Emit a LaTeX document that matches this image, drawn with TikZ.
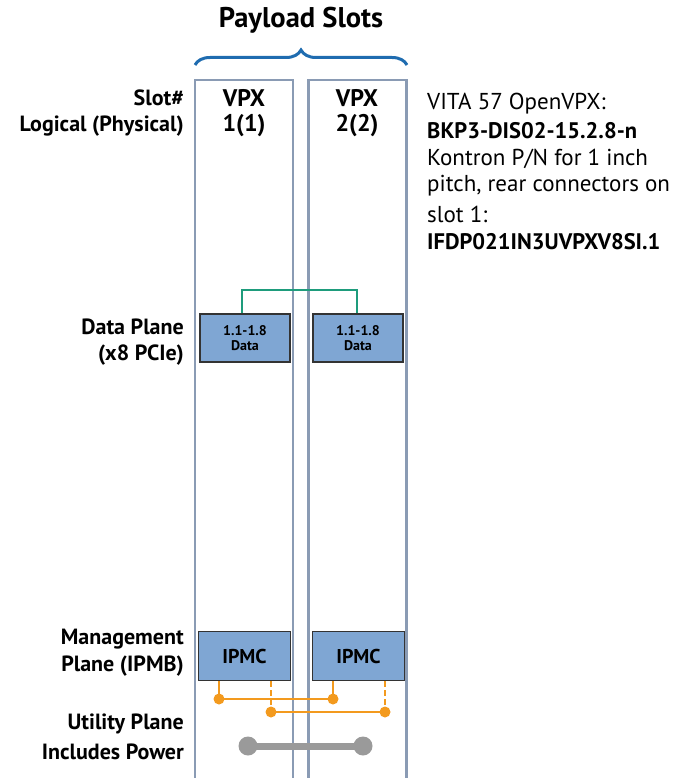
\documentclass[tikz,border=0pt]{standalone}
\usepackage{fontspec}
\setmainfont{PT Sans}
\usetikzlibrary{decorations.pathreplacing}
\definecolor{slotc}{HTML}{8A9BB4}
\definecolor{boxc}{HTML}{7FA6D3}
\definecolor{grn}{HTML}{1E9C7C}
\definecolor{orn}{HTML}{F39A1E}
\definecolor{gry}{HTML}{9A9A9A}
\definecolor{brc}{HTML}{1F6CB0}
\begin{document}
\begin{tikzpicture}[x=1pt,y=-1pt,
  slotbox/.style={draw=slotc,line width=2.4pt,minimum width=98pt,minimum height=700pt,inner sep=0pt},
  databox/.style={draw=black!80,fill=boxc,line width=1.4pt,minimum width=90pt,minimum height=48pt,inner sep=0pt,font=\bfseries\fontsize{14}{15}\selectfont,align=center},
  ipmcbox/.style={draw=black!80,fill=boxc,line width=1.4pt,minimum width=92pt,minimum height=49pt,inner sep=0pt,font=\bfseries\fontsize{20}{22}\selectfont},
  lbl/.style={anchor=east,font=\bfseries\fontsize{22}{24}\selectfont,inner sep=0pt},
  vpx/.style={font=\bfseries\fontsize{24}{26}\selectfont,inner sep=0pt},
  rt/.style={anchor=west,font=\fontsize{23}{24}\selectfont,inner sep=0pt},
  rtb/.style={anchor=west,font=\bfseries\fontsize{22.5}{24}\selectfont,inner sep=0pt},
  odot/.style={circle,fill=orn,inner sep=0pt,minimum size=11pt},
  gdot/.style={circle,fill=gry,inner sep=0pt,minimum size=19pt}]
\useasboundingbox (0,0) rectangle (673,778);
% slots
\node[slotbox] (s1) at (244,430) {};
\node[slotbox] (s2) at (357.5,430) {};
% brace and title
\coordinate (bl) at (195,65);
\coordinate (br) at (407,65);
\draw[brc,line width=3pt,decorate,decoration={brace,amplitude=15pt}] (bl) -- (br);
\node[font=\bfseries\fontsize{28.5}{30}\selectfont,inner sep=0pt] (title) at (301,20) {Payload Slots};
% VPX
\node[vpx] (v1a) at (244,98) {VPX};
\node[vpx] (v1b) at (244,126) {1(1)};
\node[vpx] (v2a) at (357,98) {VPX};
\node[vpx] (v2b) at (357,126) {2(2)};
% left labels
\node[lbl] (l1) at (184,98) {Slot\#};
\node[lbl] (l2) at (184,126) {Logical (Physical)};
\node[lbl] (l3) at (184,327) {Data Plane};
\node[lbl] (l4) at (184,355) {(x8 PCIe)};
\node[lbl] (l5) at (184,639) {Management};
\node[lbl] (l6) at (184,666) {Plane (IPMB)};
\node[lbl] (l7) at (184,724) {Utility Plane};
\node[lbl] (l8) at (184,752) {Includes Power};
% right text
\node[rt] (r1) at (427,104) {VITA 57 OpenVPX:};
\node[rtb] (r2) at (427,131) {BKP3-DIS02-15.2.8-n};
\node[rt] (r3) at (427,159) {Kontron P/N for 1 inch};
\node[rt] (r4) at (427,186) {pitch, rear connectors on};
\node[rt] (r5) at (427,214) {slot 1:};
\node[rtb] (r6) at (427,242) {IFDP021IN3UVPXV8SI.1};
% data boxes
\node[databox] (d1) at (245,338) {1.1-1.8\\Data};
\node[databox] (d2) at (358,338) {1.1-1.8\\Data};
\coordinate (g1) at (242,290);
\coordinate (g2) at (357,290);
\draw[grn,line width=2.4pt] (d1.north -| g1) -- (g1) -- (g2) -- (d2.north -| g2);
% IPMC
\node[ipmcbox] (i1) at (244.5,656) {IPMC};
\node[ipmcbox] (i2) at (358.5,656) {IPMC};
\node[odot] (o1) at (219,699) {};
\node[odot] (o2) at (333,699) {};
\node[odot] (o3) at (271,712) {};
\node[odot] (o4) at (385,712) {};
\draw[orn,line width=2.6pt] (i1.south -| o1) -- (o1.center) -- (o2.center) -- (i2.south -| o2);
\draw[orn,line width=2.6pt] (o3.center) -- (o4.center);
\draw[orn,line width=2.6pt,dash pattern=on 6pt off 3pt] (i1.south -| o3) -- (o3.center);
\draw[orn,line width=2.6pt,dash pattern=on 6pt off 3pt] (i2.south -| o4) -- (o4.center);
% power
\node[gdot] (p1) at (248,746) {};
\node[gdot] (p2) at (363,746) {};
\draw[gry,line width=7pt] (p1.center) -- (p2.center);
\end{tikzpicture}
\end{document}
